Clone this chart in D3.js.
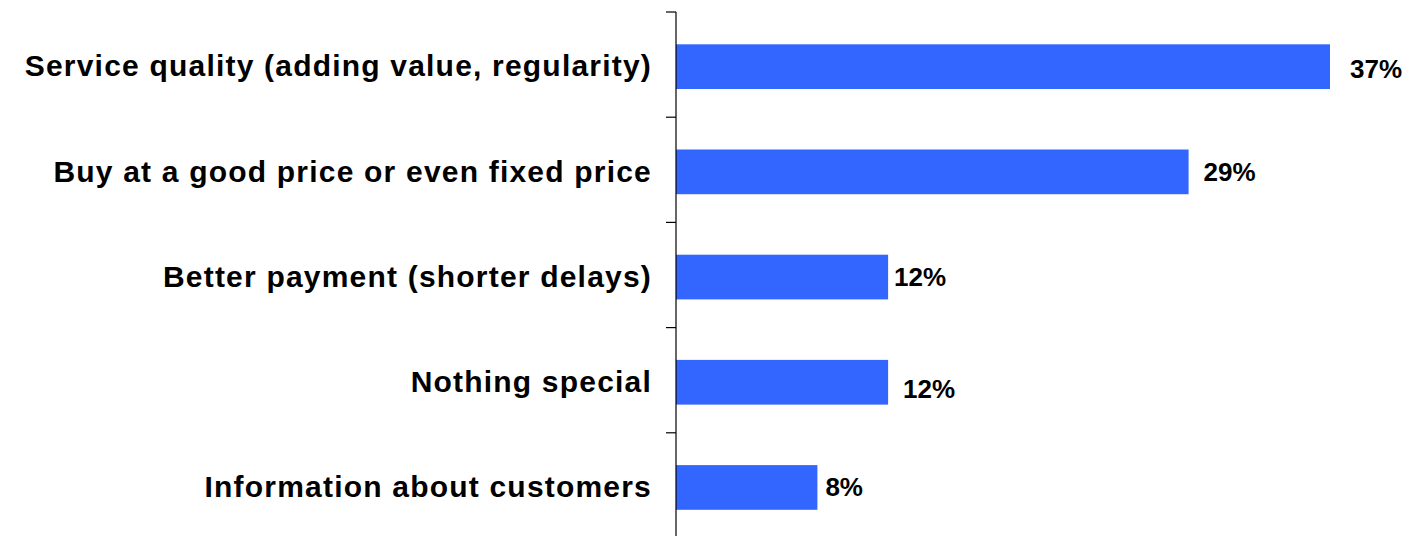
<!DOCTYPE html>
<html>
<head>
<meta charset="utf-8">
<script src="https://cdn.jsdelivr.net/npm/d3@7"></script>
<style>
  html, body { margin: 0; padding: 0; background: #fff; }
  svg { display: block; }
  text { font-family: "Liberation Sans", Arial, sans-serif; font-weight: bold; fill: #000; }
</style>
</head>
<body>
<svg id="chart" width="1410" height="536"></svg>
<script>
const categories = [
  "Service quality (adding value, regularity)",
  "Buy at a good price or even fixed price",
  "Better payment (shorter delays)",
  "Nothing special",
  "Information about customers"
];
const values = [37, 29, 12, 12, 8];
const valueLabels = ["37%", "29%", "12%", "12%", "8%"];

const svg = d3.select("#chart");
const axisX = 676;
const plotTop = 12, plotBottom = 538;

const x = d3.scaleLinear().domain([0, 37]).range([axisX, 1330]);
const y = d3.scaleBand()
  .domain(categories)
  .range([plotTop, plotBottom])
  .paddingInner(0.575)
  .paddingOuter(0.2875)
  .align(0.534);

// bars
svg.selectAll("rect.bar")
  .data(categories)
  .join("rect")
  .attr("class", "bar")
  .attr("x", x(0))
  .attr("y", d => y(d))
  .attr("width", (d, i) => x(values[i]) - x(0))
  .attr("height", y.bandwidth())
  .attr("fill", "#3366FF");

// category axis: line with ticks between categories
const axis = svg.append("g");
axis.append("line")
  .attr("x1", axisX).attr("x2", axisX)
  .attr("y1", plotTop).attr("y2", plotBottom)
  .attr("stroke", "#000").attr("stroke-width", 1.2);
const boundaries = d3.range(categories.length + 1).map(i => plotTop + i * y.step());
axis.selectAll("line.tick")
  .data(boundaries)
  .join("line")
  .attr("class", "tick")
  .attr("x1", axisX - 10).attr("x2", axisX)
  .attr("y1", d => d).attr("y2", d => d)
  .attr("stroke", "#000").attr("stroke-width", 1.2);

// category labels
svg.selectAll("text.cat")
  .data(categories)
  .join("text")
  .attr("class", "cat")
  .attr("x", axisX - 24)
  .attr("y", d => y(d) + y.bandwidth() / 2 - 1)
  .attr("dy", "0.358em")
  .attr("text-anchor", "end")
  .style("font-size", "30px")
  .style("letter-spacing", "1.2px")
  .text(d => d);

// value labels, each nudged from the bar end as placed in the original layout
const labelGap = [20, 15, 6, 15, 8];
const labelShift = [2, 0, -0.5, 6.5, -1];
svg.selectAll("text.val")
  .data(categories)
  .join("text")
  .attr("class", "val")
  .attr("x", (d, i) => x(values[i]) + labelGap[i])
  .attr("y", (d, i) => y(d) + y.bandwidth() / 2 + labelShift[i])
  .attr("dy", "0.358em")
  .style("font-size", "26px")
  .text((d, i) => valueLabels[i]);
</script>
</body>
</html>
